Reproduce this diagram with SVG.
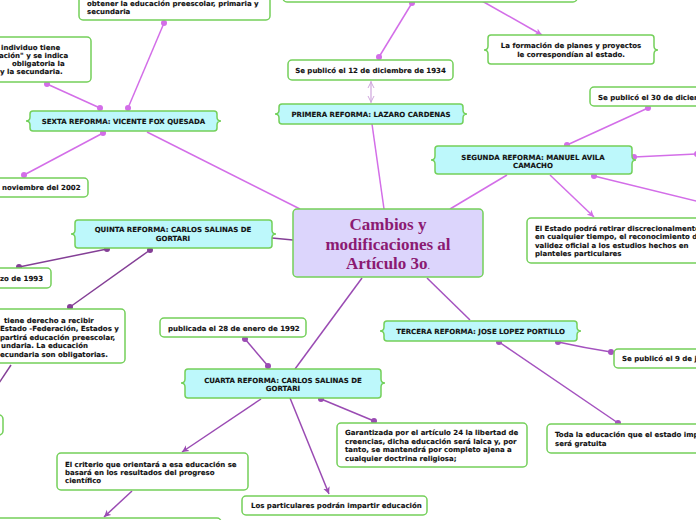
<svg xmlns="http://www.w3.org/2000/svg" width="696" height="520" viewBox="0 0 696 520">
<style>
.t{font-family:"DejaVu Sans","Liberation Sans",sans-serif;font-weight:bold;font-size:7px;fill:#111;stroke:#111;stroke-width:0.12}
.m{text-anchor:middle}
.w{fill:#fff;stroke:#74d05a;stroke-width:1.5}
.c{fill:#bdf8fb;stroke:#74d05a;stroke-width:1.5}
.cen{fill:#dcd5fc;stroke:#74d05a;stroke-width:1.5}
.ct{font-family:"Liberation Serif","Times New Roman",serif;font-weight:bold;font-size:17px;fill:#8b1a72;text-anchor:middle}
.lv{stroke:#d36ee8;stroke-width:1.5;fill:none}
.ld{stroke:#843f96;stroke-width:1.5;fill:none}
.lm{stroke:#9a4bb3;stroke-width:1.5;fill:none}
.lt{stroke:#a452bf;stroke-width:1.5;fill:none}
.ll{stroke:#cfa6dc;stroke-width:1.2;fill:none}
</style>
<defs>
<marker id="dv" markerUnits="userSpaceOnUse" markerWidth="8" markerHeight="8" refX="4" refY="4"><circle cx="4" cy="4" r="3" fill="#d36ee8"/></marker>
<marker id="dd" markerUnits="userSpaceOnUse" markerWidth="8" markerHeight="8" refX="4" refY="4"><circle cx="4" cy="4" r="3" fill="#843f96"/></marker>
<marker id="dm" markerUnits="userSpaceOnUse" markerWidth="8" markerHeight="8" refX="4" refY="4"><circle cx="4" cy="4" r="3" fill="#9a4bb3"/></marker>
<marker id="dt" markerUnits="userSpaceOnUse" markerWidth="8" markerHeight="8" refX="4" refY="4"><circle cx="4" cy="4" r="3" fill="#a452bf"/></marker>
<marker id="av" markerUnits="userSpaceOnUse" markerWidth="8" markerHeight="8" refX="7" refY="4" orient="auto"><path d="M0,0.5 L7,4 L0,7.5 L2,4 Z" fill="#d36ee8"/></marker>
<marker id="am" markerUnits="userSpaceOnUse" markerWidth="8" markerHeight="8" refX="7" refY="4" orient="auto"><path d="M0,0.5 L7,4 L0,7.5 L2,4 Z" fill="#9a4bb3"/></marker>
<marker id="al" markerUnits="userSpaceOnUse" markerWidth="8" markerHeight="8" refX="7" refY="4" orient="auto-start-reverse"><path d="M0,1 L6,4 L0,7" fill="none" stroke="#cfa6dc" stroke-width="1"/></marker>
</defs>
<rect width="696" height="520" fill="#fff"/>

<g id="connectors">
<line class="lv" x1="164" y1="23" x2="128" y2="108" marker-start="url(#dv)" marker-end="url(#dv)"/>
<line class="lv" x1="47" y1="84" x2="100" y2="108" marker-start="url(#dv)" marker-end="url(#dv)"/>
<line class="lv" x1="103" y1="133" x2="24" y2="175" marker-start="url(#dv)" marker-end="url(#dv)"/>
<line class="lv" x1="147" y1="132" x2="300" y2="209"/>
<line class="lv" x1="412" y1="3" x2="379" y2="57" marker-start="url(#dv)" marker-end="url(#dv)"/>
<line class="lv" x1="482" y1="1" x2="542" y2="35" marker-end="url(#av)"/>
<line class="ll" x1="371" y1="81" x2="371" y2="103" marker-start="url(#al)" marker-end="url(#al)"/>
<line class="lv" x1="372" y1="124" x2="384" y2="209"/>
<line class="lv" x1="450" y1="209" x2="507" y2="175"/>
<line class="lv" x1="550" y1="175" x2="594" y2="217" marker-end="url(#av)"/>
<line class="lv" x1="567" y1="145" x2="648" y2="108" marker-start="url(#dv)" marker-end="url(#dv)"/>
<line class="lv" x1="634" y1="157" x2="697" y2="154" marker-start="url(#dv)" marker-end="url(#dv)"/>
<line class="lv" x1="594" y1="176" x2="700" y2="202" marker-start="url(#dv)"/>
<line class="ld" x1="272" y1="238" x2="293" y2="240"/>
<line class="ld" x1="107" y1="249" x2="19" y2="267" marker-start="url(#dd)" marker-end="url(#dd)"/>
<line class="ld" x1="150" y1="250" x2="70" y2="307" marker-start="url(#dd)" marker-end="url(#dd)"/>
<line class="ld" x1="11" y1="365" x2="-1" y2="383"/>
<line class="lm" x1="362" y1="278" x2="295" y2="369"/>
<line class="lm" x1="245" y1="339" x2="268" y2="366" marker-start="url(#dm)" marker-end="url(#dm)"/>
<line class="lm" x1="261" y1="399" x2="182" y2="452" marker-end="url(#am)"/>
<line class="lm" x1="132" y1="491" x2="104" y2="517" marker-end="url(#am)"/>
<line class="lm" x1="290" y1="398" x2="329" y2="494" marker-end="url(#am)"/>
<line class="lm" x1="321" y1="399" x2="374" y2="421" marker-start="url(#dm)" marker-end="url(#dm)"/>
<line class="lt" x1="427" y1="278" x2="470" y2="320"/>
<line class="lt" x1="499" y1="342" x2="618" y2="423" marker-start="url(#dt)" marker-end="url(#dt)"/>
<path class="lt" d="M558,342 Q585,348 611,352" marker-start="url(#dt)" marker-end="url(#dt)"/>
</g>

<g id="central">
<rect class="cen" x="293" y="209" width="190" height="68" rx="4"/>
<text class="ct" x="388" y="230">Cambios y</text>
<text class="ct" x="388" y="250">modificaciones al</text>
<text class="ct" x="388" y="269">Artículo 3o<tspan font-size="10" font-weight="normal">.</tspan></text>
</g>

<g id="top-node">
<rect class="w" x="283" y="-20" width="294" height="22" rx="4"/>
</g>

<g id="top-left-node">
<rect class="w" x="79" y="-20" width="191" height="40" rx="4"/>
<text class="t" x="87" y="5.5">obtener la educación preescolar, primaria y</text>
<text class="t" x="87" y="14">secundaria</text>
</g>

<g id="left-node">
<rect class="w" x="-20" y="37" width="111" height="45" rx="4"/>
<text class="t" x="1" y="49.5">individuo tiene</text>
<text class="t" x="-1" y="57.5">ación" y se indica</text>
<text class="t" x="12" y="65.5">obligatoria la</text>
<text class="t" x="0" y="73.5">y la secundaria.</text>
</g>

<g id="sexta">
<path class="c" d="M33,111 H214 Q217,111 217,114 V117 Q217,121 221,121 Q217,121 217,125 V128 Q217,131 214,131 H33 Q30,131 30,128 V125 Q30,121 26,121 Q30,121 30,117 V114 Q30,111 33,111 Z"/>
<text class="t m" x="123.5" y="123.5">SEXTA REFORMA: VICENTE FOX QUESADA</text>
</g>

<g id="nov2002">
<rect class="w" x="-20" y="178" width="108" height="19" rx="4"/>
<text class="t" x="2" y="190">noviembre del 2002</text>
</g>

<g id="fecha1934">
<rect class="w" x="288" y="60" width="165" height="20" rx="4"/>
<text class="t m" x="370.5" y="72.5">Se publicó el 12 de diciembre de 1934</text>
</g>

<g id="primera">
<path class="c" d="M282,104 H460 Q463,104 463,107 V110 Q463,114 467,114 Q463,114 463,118 V121 Q463,124 460,124 H282 Q279,124 279,121 V118 Q279,114 275,114 Q279,114 279,110 V107 Q279,104 282,104 Z"/>
<text class="t m" x="371" y="116.5">PRIMERA REFORMA: LAZARO CARDENAS</text>
</g>

<g id="formacion">
<path class="w" d="M491,35 H651 Q654,35 654,38 V46 Q654,50 658,50 Q654,50 654,54 V61 Q654,64 651,64 H491 Q488,64 488,61 V54 Q488,50 484,50 Q488,50 488,46 V38 Q488,35 491,35 Z"/>
<text class="t m" x="571" y="47.5">La formación de planes y proyectos</text>
<text class="t m" x="571" y="56.5">le correspondían al estado.</text>
</g>

<g id="se30">
<rect class="w" x="590" y="87" width="120" height="19" rx="4"/>
<text class="t" x="598" y="99.5">Se publicó el 30 de diciem</text>
</g>

<g id="segunda">
<path class="c" d="M438,146 H629 Q632,146 632,149 V156 Q632,160 636,160 Q632,160 632,164 V171 Q632,174 629,174 H438 Q435,174 435,171 V164 Q435,160 431,160 Q435,160 435,156 V149 Q435,146 438,146 Z"/>
<text class="t m" x="533" y="159.5">SEGUNDA REFORMA: MANUEL AVILA</text>
<text class="t m" x="533" y="167.5">CAMACHO</text>
</g>

<g id="elestado">
<rect class="w" x="527" y="218" width="180" height="45" rx="4"/>
<text class="t" x="535" y="230.5">El Estado podrá retirar discrecionalmente</text>
<text class="t" x="535" y="239">en cualquier tiempo, el reconocimiento de</text>
<text class="t" x="535" y="247.5">validez oficial a los estudios hechos en</text>
<text class="t" x="535" y="256">planteles particulares</text>
</g>

<g id="quinta">
<path class="c" d="M78,220 H269 Q272,220 272,223 V230 Q272,234 276,234 Q272,234 272,238 V245 Q272,248 269,248 H78 Q75,248 75,245 V238 Q75,234 71,234 Q75,234 75,230 V223 Q75,220 78,220 Z"/>
<text class="t m" x="173" y="231.5">QUINTA REFORMA: CARLOS SALINAS DE</text>
<text class="t m" x="173" y="240.5">GORTARI</text>
</g>

<g id="zo1993">
<rect class="w" x="-20" y="268" width="71" height="20" rx="4"/>
<text class="t" x="0" y="280.5">zo de 1993</text>
</g>

<g id="derecho">
<rect class="w" x="-20" y="309" width="145" height="54" rx="4"/>
<text class="t" x="4" y="322.5">tiene derecho a recibir</text>
<text class="t" x="0" y="330.5">Estado -Federación, Estados y</text>
<text class="t" x="0" y="339.5">partirá educación preescolar,</text>
<text class="t" x="1" y="347.5">undaria. La educación</text>
<text class="t" x="0" y="356.5">ecundaria son obligatorias.</text>
</g>

<g id="small-left">
<rect class="w" x="-20" y="415" width="23" height="20" rx="4"/>
</g>

<g id="publicada">
<rect class="w" x="160" y="318" width="146" height="19" rx="4"/>
<text class="t" x="168" y="330.5">publicada el 28 de enero de 1992</text>
</g>

<g id="cuarta">
<path class="c" d="M188,369 H378 Q381,369 381,372 V379 Q381,383 385,383 Q381,383 381,387 V395 Q381,398 378,398 H188 Q185,398 185,395 V387 Q185,383 181,383 Q185,383 185,379 V372 Q185,369 188,369 Z"/>
<text class="t m" x="283" y="382.5">CUARTA REFORMA: CARLOS SALINAS DE</text>
<text class="t m" x="283" y="390.5">GORTARI</text>
</g>

<g id="garantizada">
<rect class="w" x="337" y="423" width="190" height="44" rx="4"/>
<text class="t" x="345" y="434.5">Garantizada por el artículo 24 la libertad de</text>
<text class="t" x="345" y="443.5">creencias, dicha educación será laica y, por</text>
<text class="t" x="345" y="452">tanto, se mantendrá por completo ajena a</text>
<text class="t" x="345" y="460.5">cualquier doctrina religiosa;</text>
</g>

<g id="criterio">
<rect class="w" x="57" y="453" width="191" height="37" rx="4"/>
<text class="t" x="65" y="466.5">El criterio que orientará a esa educación se</text>
<text class="t" x="65" y="474.5">basará en los resultados del progreso</text>
<text class="t" x="65" y="482.5">científico</text>
</g>

<g id="particulares">
<rect class="w" x="242" y="496" width="185" height="19" rx="4"/>
<text class="t" x="251" y="507.5">Los particulares podrán impartir educación</text>
</g>

<g id="bottom-node">
<rect class="w" x="-20" y="518" width="241" height="20" rx="4"/>
</g>

<g id="tercera">
<path class="c" d="M387,321 H574 Q577,321 577,324 V327 Q577,331 581,331 Q577,331 577,335 V338 Q577,341 574,341 H387 Q384,341 384,338 V335 Q384,331 380,331 Q384,331 384,327 V324 Q384,321 387,321 Z"/>
<text class="t m" x="480.5" y="333.5">TERCERA REFORMA: JOSE LOPEZ PORTILLO</text>
</g>

<g id="se9">
<rect class="w" x="614" y="349" width="100" height="19" rx="4"/>
<text class="t" x="622" y="361">Se publicó el 9 de j</text>
</g>

<g id="toda">
<rect class="w" x="547" y="424" width="160" height="29" rx="4"/>
<text class="t" x="555" y="436.5">Toda la educación que el estado imp</text>
<text class="t" x="555" y="445.5">será gratuita</text>
</g>
</svg>
